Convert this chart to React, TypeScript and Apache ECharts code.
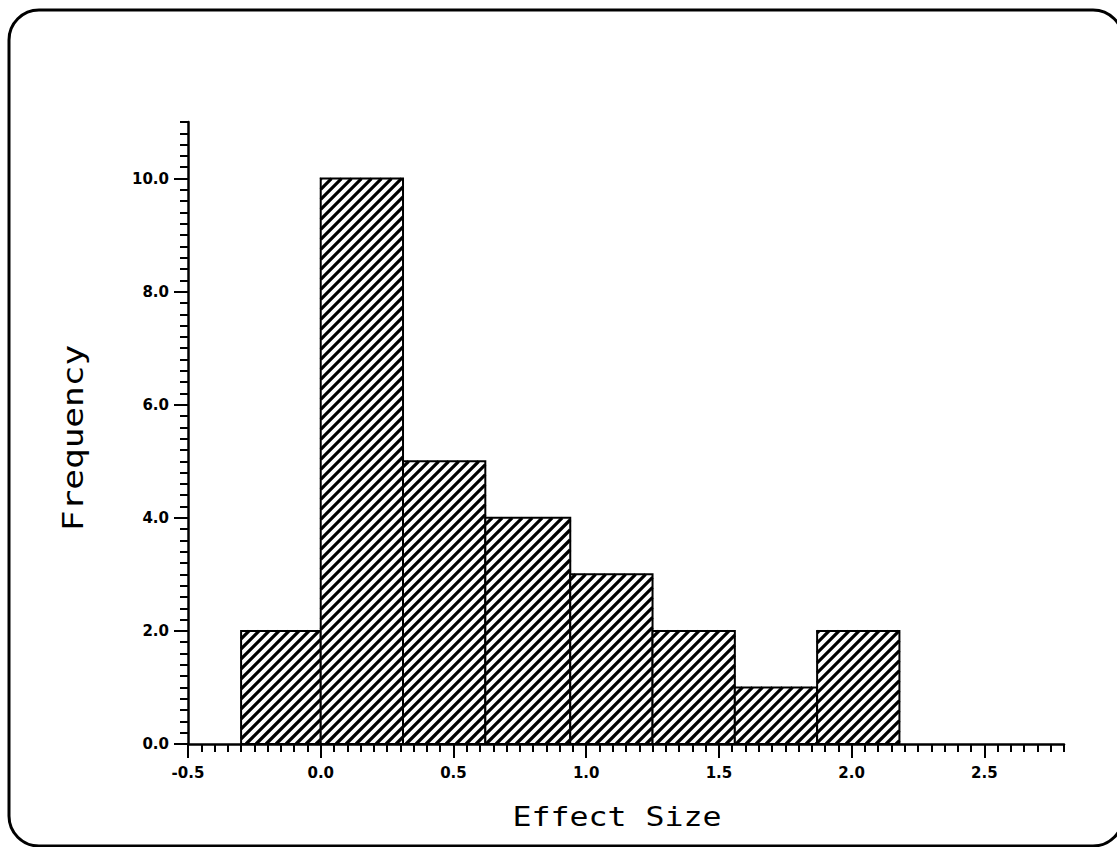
import React, { useEffect, useRef } from "react";
import * as echarts from "echarts";

// Histogram data (bin edges and counts)
const binEdges = [-0.3, 0.0, 0.31, 0.62, 0.94, 1.25, 1.56, 1.87, 2.18];
const frequencies = [2, 10, 5, 4, 3, 2, 1, 2];
const xMajorTicks = [-0.5, 0, 0.5, 1.0, 1.5, 2.0, 2.5];
const yMajorTicks = [0, 2, 4, 6, 8, 10];
const xTitle = "Effect Size";
const yTitle = "Frequency";

const bins = frequencies.map((f, i) => [binEdges[i], binEdges[i + 1], f]);

const TICK_FONT = "'DejaVu Sans', sans-serif";
const TITLE_FONT = "'DejaVu Sans Mono', monospace";

export default function App() {
  const ref = useRef<HTMLDivElement>(null);
  useEffect(() => {
    if (!ref.current) return;
    const chart = echarts.init(ref.current, undefined, { renderer: "svg" });
    const axisLineStyle = { color: "#000", width: 2.5 };
    const tickStyle = { color: "#000", width: 2 };
    const labelStyle = {
      color: "#000",
      fontFamily: TICK_FONT,
      fontWeight: "bold" as const,
      fontSize: 15,
    };
    chart.setOption({
      animation: false,
      backgroundColor: "#fff",
      grid: { left: 188, right: 53, top: 122, bottom: 103 },
      xAxis: [
        {
          type: "value",
          position: "bottom",
          min: -0.5,
          max: 2.8,
          interval: 0.05,
          axisLine: { show: true, onZero: false, lineStyle: axisLineStyle },
          axisTick: { show: true, length: 8, lineStyle: tickStyle },
          axisLabel: { show: false },
          splitLine: { show: false },
        },
        {
          type: "value",
          position: "bottom",
          min: -0.5,
          max: 2.8,
          interval: 0.5,
          axisLine: { show: false, onZero: false },
          axisTick: {
            show: true,
            length: 14,
            lineStyle: tickStyle,
            customValues: xMajorTicks,
          },
          axisLabel: {
            ...labelStyle,
            customValues: xMajorTicks,
            margin: 21,
            formatter: (v: number) => v.toFixed(1),
          },
          splitLine: { show: false },
        },
      ],
      yAxis: [
        {
          type: "value",
          position: "left",
          min: 0,
          max: 11,
          interval: 0.2,
          axisLine: { show: true, onZero: false, lineStyle: axisLineStyle },
          axisTick: { show: true, length: 8, lineStyle: tickStyle },
          axisLabel: { show: false },
          splitLine: { show: false },
        },
        {
          type: "value",
          position: "left",
          min: 0,
          max: 11,
          interval: 2,
          axisLine: { show: false, onZero: false },
          axisTick: {
            show: true,
            length: 14,
            lineStyle: tickStyle,
            customValues: yMajorTicks,
          },
          axisLabel: {
            ...labelStyle,
            customValues: yMajorTicks,
            margin: 19,
            formatter: (v: number) => v.toFixed(1),
          },
          splitLine: { show: false },
        },
      ],
      series: [
        {
          type: "custom",
          xAxisIndex: 0,
          yAxisIndex: 0,
          data: bins,
          renderItem: (params: any, api: any) => {
            const p0 = api.coord([api.value(0), api.value(2)]);
            const p1 = api.coord([api.value(1), 0]);
            const left = p0[0];
            const top = p0[1];
            const right = p1[0];
            const bottom = p1[1];
            const shape = { x: left, y: top, width: right - left, height: bottom - top };
            const children: any[] = [
              { type: "rect", shape, style: { fill: "#fff" } },
            ];
            const period = 10;
            const cStart = Math.ceil((left + top) / period) * period;
            for (let c = cStart; c <= right + bottom; c += period) {
              const xa = Math.max(left, c - bottom);
              const xb = Math.min(right, c - top);
              if (xb - xa < 0.5) continue;
              children.push({
                type: "line",
                shape: { x1: xa, y1: c - xa, x2: xb, y2: c - xb },
                style: { stroke: "#000", lineWidth: 3.2 },
              });
            }
            children.push({
              type: "rect",
              shape,
              style: { fill: "none", stroke: "#000", lineWidth: 2 },
            });
            return { type: "group", children };
          },
        },
      ],
      graphic: [
        {
          type: "rect",
          shape: { x: 9, y: 10, width: 1114, height: 836, r: 30 },
          style: { fill: "none", stroke: "#000", lineWidth: 3 },
          silent: true,
        },
        {
          type: "text",
          x: 617,
          y: 817,
          scaleX: 1.17,
          style: {
            text: xTitle,
            font: `27px ${TITLE_FONT}`,
            fill: "#000",
            align: "center",
            verticalAlign: "middle",
          },
        },
        {
          type: "text",
          x: 73,
          y: 438,
          rotation: Math.PI / 2,
          scaleX: 1.23,
          style: {
            text: yTitle,
            font: `28px ${TITLE_FONT}`,
            fill: "#000",
            align: "center",
            verticalAlign: "middle",
          },
        },
      ],
    });
    return () => chart.dispose();
  }, []);
  return (
    <div
      ref={ref}
      style={{ position: "absolute", left: 0, top: 0, width: 1117, height: 847 }}
    />
  );
}
